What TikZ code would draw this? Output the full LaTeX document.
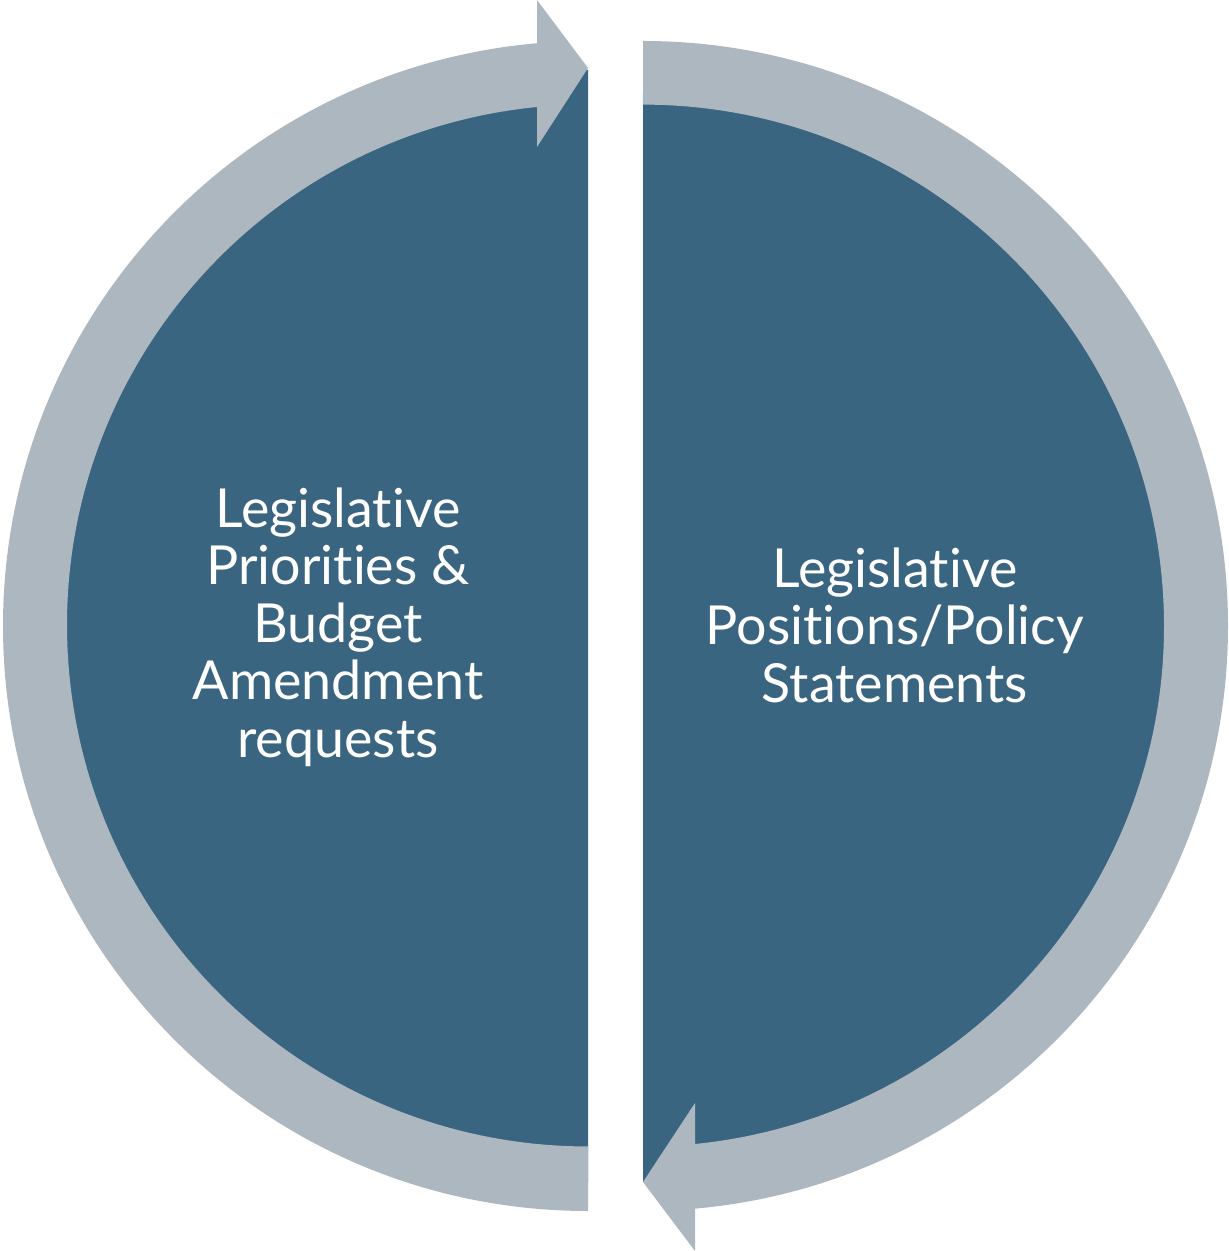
\documentclass[tikz,border=0pt]{standalone}
\usepackage{fontspec}
\setmainfont{Lato}[Ligatures=NoCommon]
\definecolor{darkblue}{RGB}{58,101,128}
\definecolor{bandgray}{RGB}{173,183,191}
\begin{document}
\begin{tikzpicture}[x=1pt,y=1pt,
  half/.style={fill=darkblue},
  band/.style={fill=bandgray},
  lbl/.style={text=white, align=center, inner sep=0pt, font=\fontsize{53.8}{57.5}\selectfont}]
\useasboundingbox (0,0) rectangle (1229,1251);
% dark half discs
\fill[half] (588,1181) arc[start angle=90,end angle=270,radius=556] -- cycle;
\fill[half] (643,1181) arc[start angle=90,end angle=-90,radius=556] -- cycle;
% left arrow band (bottom -> left -> top, pointing right)
\fill[band] (588,40) arc[start angle=270,end angle=95.0,radius=585]
  -- (537,1251) -- (588,1183) -- (537,1104) -- (537,1144)
  arc[start angle=95.62,end angle=270,radius=521] -- cycle;
% right arrow band (top -> right -> bottom, pointing left)
\fill[band] (643,1210) arc[start angle=90,end angle=-84.9,radius=585]
  -- (695,0) -- (643,69) -- (695,148) -- (695,107)
  arc[start angle=-84.27,end angle=90,radius=521] -- cycle;
% labels
\node[lbl] (leftlabel) at (338,624) {Legislative\\Priorities \&\\Budget\\Amendment\\requests};
\node[lbl] (rightlabel) at (895,626) {Legislative\\Positions/Policy\\Statements};
\end{tikzpicture}
\end{document}
